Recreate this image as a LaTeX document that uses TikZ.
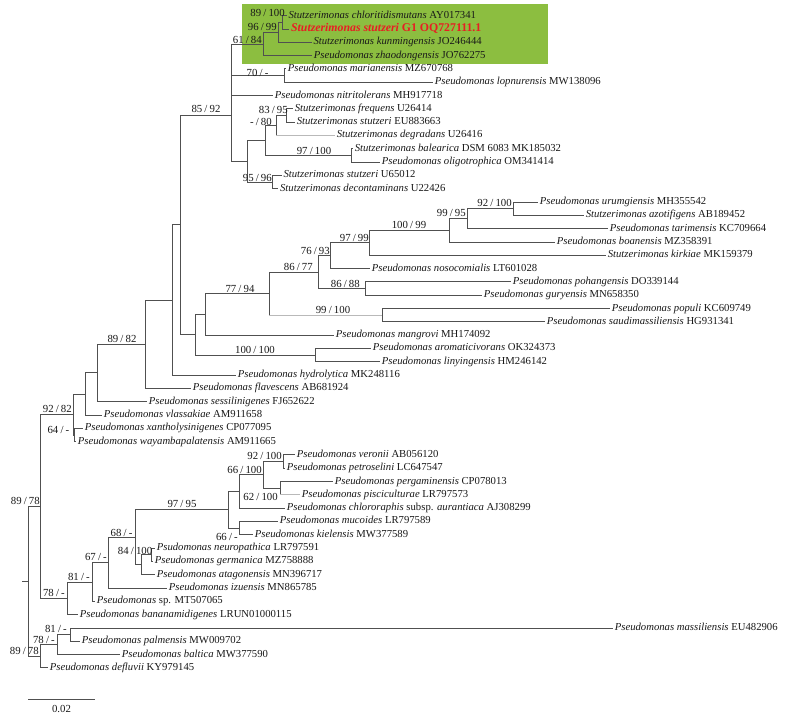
\documentclass[tikz,border=0pt]{standalone}
\usepackage{fontspec}
\setmainfont{Liberation Serif}
\definecolor{grn}{RGB}{140,190,64}
\definecolor{ln}{RGB}{80,80,80}
\definecolor{lnl}{RGB}{185,185,185}
\definecolor{txt}{RGB}{25,25,25}
\definecolor{hl}{RGB}{232,30,35}
\tikzset{
  br/.style={draw=ln, line width=0.9pt},
  brl/.style={draw=lnl, line width=0.9pt},
  tip/.style={anchor=west, inner xsep=1.6pt, inner ysep=0pt, text height=6.5pt, text depth=1.5pt, font=\fontsize{10.7}{12}\selectfont, text=txt},
  bs/.style={inner sep=0pt, font=\fontsize{10.8}{12}\selectfont, text=txt},
  bse/.style={bs, anchor=east},
}
\newcommand{\sn}[2]{\textit{#1} #2}
\newcommand{\bv}[2]{#1\hspace{0.2em}/\hspace{0.2em}#2}
\begin{document}
\begin{tikzpicture}[x=1pt,y=-1pt]
\path[use as bounding box, fill=white] (0,0) rectangle (811,718);
\fill[grn] (242,4) rectangle (548,64);
% ---------- tips ----------
\node[tip] (t1) at (286.7,15.70) {\sn{Stutzerimonas chloritidismutans}{AY017341}};
\node[tip, text=hl, font=\fontsize{11.8}{13}\selectfont\bfseries] (t2) at (289.3,29.01) {\textit{Stutzerimonas stutzeri} G1 OQ727111.1};
\node[tip] (t3) at (311.7,42.32) {\sn{Stutzerimonas kunmingensis}{JO246444}};
\node[tip] (t4) at (312,55.63) {\sn{Pseudomonas zhaodongensis}{JO762275}};
\node[tip] (t5) at (286,68.94) {\sn{Pseudomonas marianensis}{MZ670768}};
\node[tip] (t6) at (433,82.25) {\sn{Pseudomonas lopnurensis}{MW138096}};
\node[tip] (t7) at (273,95.56) {\sn{Pseudomonas nitritolerans}{MH917718}};
\node[tip] (t8) at (293,108.87) {\sn{Stutzerimonas frequens}{U26414}};
\node[tip] (t9) at (295,122.18) {\sn{Stutzerimonas stutzeri}{EU883663}};
\node[tip] (t10) at (335,135.49) {\sn{Stutzerimonas degradans}{U26416}};
\node[tip] (t11) at (353,148.80) {\sn{Stutzerimonas balearica}{DSM 6083 MK185032}};
\node[tip] (t12) at (380,162.11) {\sn{Pseudomonas oligotrophica}{OM341414}};
\node[tip] (t13) at (281.7,175.42) {\sn{Stutzerimonas stutzeri}{U65012}};
\node[tip] (t14) at (278.3,188.73) {\sn{Stutzerimonas decontaminans}{U22426}};
\node[tip] (t15) at (538,202.04) {\sn{Pseudomonas urumgiensis}{MH355542}};
\node[tip] (t16) at (584,215.35) {\sn{Stutzerimonas azotifigens}{AB189452}};
\node[tip] (t17) at (608,228.66) {\sn{Pseudomonas tarimensis}{KC709664}};
\node[tip] (t18) at (555,241.97) {\sn{Pseudomonas boanensis}{MZ358391}};
\node[tip] (t19) at (606,255.28) {\sn{Stutzerimonas kirkiae}{MK159379}};
\node[tip] (t20) at (370,268.59) {\sn{Pseudomonas nosocomialis}{LT601028}};
\node[tip] (t21) at (511,281.90) {\sn{Pseudomonas pohangensis}{DO339144}};
\node[tip] (t22) at (482,295.21) {\sn{Pseudomonas guryensis}{MN658350}};
\node[tip] (t23) at (610,308.52) {\sn{Pseudomonas populi}{KC609749}};
\node[tip] (t24) at (545,321.83) {\sn{Pseudomonas saudimassiliensis}{HG931341}};
\node[tip] (t25) at (334,335.14) {\sn{Pseudomonas mangrovi}{MH174092}};
\node[tip] (t26) at (371,348.45) {\sn{Pseudomonas aromaticivorans}{OK324373}};
\node[tip] (t27) at (380,361.76) {\sn{Pseudomonas linyingensis}{HM246142}};
\node[tip] (t28) at (236,375.07) {\sn{Pseudomonas hydrolytica}{MK248116}};
\node[tip] (t29) at (191,388.38) {\sn{Pseudomonas flavescens}{AB681924}};
\node[tip] (t30) at (147,401.69) {\sn{Pseudomonas sessilinigenes}{FJ652622}};
\node[tip] (t31) at (102,415.00) {\sn{Pseudomonas vlassakiae}{AM911658}};
\node[tip] (t32) at (83,428.31) {\sn{Pseudomonas xantholysinigenes}{CP077095}};
\node[tip] (t33) at (76,441.62) {\sn{Pseudomonas wayambapalatensis}{AM911665}};
\node[tip] (t34) at (295,454.93) {\sn{Pseudomonas veronii}{AB056120}};
\node[tip] (t35) at (285,468.24) {\sn{Pseudomonas petroselini}{LC647547}};
\node[tip] (t36) at (333,481.55) {\sn{Pseudomonas pergaminensis}{CP078013}};
\node[tip] (t37) at (300,494.86) {\sn{Pseudomonas pisciculturae}{LR797573}};
\node[tip] (t38) at (285,508.17) {\textit{Pseudomonas chlororaphis} subsp. \textit{aurantiaca} AJ308299};
\node[tip] (t39) at (278,521.48) {\sn{Pseudomonas mucoides}{LR797589}};
\node[tip] (t40) at (253,534.79) {\sn{Pseudomonas kielensis}{MW377589}};
\node[tip] (t41) at (155,548.10) {\sn{Psudomonas neuropathica}{LR797591}};
\node[tip] (t42) at (153,561.41) {\sn{Pseudomonas germanica}{MZ758888}};
\node[tip] (t43) at (155,574.72) {\sn{Pseudomonas atagonensis}{MN396717}};
\node[tip] (t44) at (167,588.03) {\sn{Pseudomonas izuensis}{MN865785}};
\node[tip] (t45) at (95,601.34) {\textit{Pseudomonas} sp. MT507065};
\node[tip] (t46) at (78,614.65) {\sn{Pseudomonas bananamidigenes}{LRUN01000115}};
\node[tip] (t47) at (613,627.96) {\sn{Pseudomonas massiliensis}{EU482906}};
\node[tip] (t48) at (80,641.27) {\sn{Pseudomonas palmensis}{MW009702}};
\node[tip] (t49) at (120,654.58) {\sn{Pseudomonas baltica}{MW377590}};
\node[tip] (t50) at (48,667.89) {\sn{Pseudomonas defluvii}{KY979145}};
% ---------- internal nodes ----------
\coordinate (n89) at (282.7,22.36);
\coordinate (n96) at (278.3,32.34);
\coordinate (n61) at (263.3,43.98);
\coordinate (n70) at (284,75.60);
\coordinate (n83) at (286.7,115.53);
\coordinate (n80) at (276,125.51);
\coordinate (n97a) at (351.7,155.46);
\coordinate (n265) at (265,140.48);
\coordinate (n95) at (272.7,182.08);
\coordinate (n247) at (247,161.28);
\coordinate (n231) at (231,115);
\coordinate (n513) at (513,208.70);
\coordinate (n467) at (467,218.68);
\coordinate (n449) at (449,230.33);
\coordinate (n369) at (369,242.80);
\coordinate (n330) at (330,255.70);
\coordinate (n365) at (365,288.56);
\coordinate (n318) at (318,272.13);
\coordinate (n382) at (382,315.18);
\coordinate (n269) at (269,293.65);
\coordinate (n205) at (205,314.40);
\coordinate (n315) at (315,355.10);
\coordinate (n195) at (195,334.75);
\coordinate (n180) at (180,224.90);
\coordinate (n172) at (172,300.00);
\coordinate (n145) at (145,344.20);
\coordinate (n97) at (97,372.94);
\coordinate (n85) at (85,393.97);
\coordinate (n64) at (74,434.97);
\coordinate (n73) at (73,414.47);
\coordinate (n283) at (283,461.60);
\coordinate (n280) at (280,488.20);
\coordinate (n263) at (263,474.90);
\coordinate (n239a) at (239,491.50);
\coordinate (n239b) at (239,528.10);
\coordinate (n228) at (228,509.80);
\coordinate (n152) at (151.7,554.76);
\coordinate (n142) at (141.7,564.74);
\coordinate (n135) at (135,537.30);
\coordinate (n108) at (108.7,562.70);
\coordinate (n93) at (92.7,582.00);
\coordinate (n67) at (67,598.30);
\coordinate (n40) at (40,506.40);
\coordinate (n70b) at (70,634.60);
\coordinate (n57) at (57,644.60);
\coordinate (n40b) at (40,656.20);
\coordinate (n28) at (28,581.30);
\coordinate (r0) at (22,581.30);
% ---------- branches ----------
\draw[br] (r0) -- (n28);
\draw[br] (n28) |- (n40);
\draw[br] (n28) |- (n40b);
\draw[br] (n40) |- (n73);
\draw[br] (n40) |- (n67);
\draw[br] (n73) |- (n85);
\draw[br] (n73) |- (n64);
\draw[br] (n64) |- (t32.west);
\draw[br] (n64) |- (t33.west);
\draw[br] (n85) |- (n97);
\draw[br] (n85) |- (t31.west);
\draw[br] (n97) |- (n145);
\draw[br] (n97) |- (t30.west);
\draw[br] (n145) |- (n172);
\draw[br] (n145) |- (t29.west);
\draw[br] (n172) |- (n180);
\draw[br] (n172) |- (t28.west);
\draw[br] (n180) |- (n231);
\draw[br] (n180) |- (n195);
\draw[br] (n231) |- (n61);
\draw[br] (n231) |- (n70);
\draw[br] (n231) |- (t7.west);
\draw[br] (n231) |- (n247);
\draw[br] (n61) |- (n96);
\draw[br] (n61) |- (t4.west);
\draw[br] (n96) |- (n89);
\draw[br] (n96) |- (t3.west);
\draw[br] (n89) |- (t1.west);
\draw[br] (n89) |- (t2.west);
\draw[br] (n70) |- (t5.west);
\draw[br] (n70) |- (t6.west);
\draw[br] (n247) |- (n265);
\draw[br] (n247) |- (n95);
\draw[br] (n265) |- (n80);
\draw[br] (n265) |- (n97a);
\draw[br] (n80) |- (n83);
\draw[br] (n80) -- (n80 |- t10.west);
\draw[brl] (n80 |- t10.west) -- (t10.west);
\draw[br] (n83) |- (t8.west);
\draw[br] (n83) |- (t9.west);
\draw[br] (n97a) |- (t11.west);
\draw[br] (n97a) |- (t12.west);
\draw[br] (n95) |- (t13.west);
\draw[br] (n95) |- (t14.west);
\draw[br] (n195) |- (n205);
\draw[br] (n195) |- (n315);
\draw[br] (n205) |- (n269);
\draw[br] (n205) |- (t25.west);
\draw[br] (n269) |- (n318);
\draw[br] (n269) -- (n269 |- n382);
\draw[brl] (n269 |- n382) -- (n382);
\draw[br] (n318) |- (n330);
\draw[br] (n318) |- (n365);
\draw[br] (n330) |- (n369);
\draw[br] (n330) |- (t20.west);
\draw[br] (n369) |- (n449);
\draw[br] (n369) |- (t19.west);
\draw[br] (n449) |- (n467);
\draw[br] (n449) |- (t18.west);
\draw[br] (n467) |- (n513);
\draw[br] (n467) |- (t17.west);
\draw[br] (n513) |- (t15.west);
\draw[br] (n513) |- (t16.west);
\draw[br] (n365) |- (t21.west);
\draw[br] (n365) |- (t22.west);
\draw[br] (n382) |- (t23.west);
\draw[br] (n382) |- (t24.west);
\draw[br] (n315) |- (t26.west);
\draw[br] (n315) |- (t27.west);
\draw[br] (n67) |- (n93);
\draw[br] (n67) |- (t46.west);
\draw[br] (n93) |- (n108);
\draw[br] (n93) |- (t45.west);
\draw[br] (n108) |- (n135);
\draw[br] (n108) |- (t44.west);
\draw[br] (n135) |- (n228);
\draw[br] (n135) |- (n142);
\draw[br] (n142) |- (n152);
\draw[br] (n142) |- (t43.west);
\draw[br] (n152) |- (t41.west);
\draw[br] (n152) |- (t42.west);
\draw[br] (n228) |- (n239a);
\draw[br] (n228) |- (n239b);
\draw[br] (n239a) |- (n263);
\draw[br] (n239a) |- (t38.west);
\draw[br] (n263) |- (n283);
\draw[br] (n263) |- (n280);
\draw[br] (n283) |- (t34.west);
\draw[br] (n283) |- (t35.west);
\draw[br] (n280) |- (t36.west);
\draw[br] (n280) -- (n280 |- t37.west);
\draw[brl] (n280 |- t37.west) -- (t37.west);
\draw[br] (n239b) |- (t39.west);
\draw[br] (n239b) |- (t40.west);
\draw[br] (n40b) |- (n57);
\draw[br] (n40b) |- (t50.west);
\draw[br] (n57) |- (n70b);
\draw[br] (n57) |- (t49.west);
\draw[br] (n70b) |- (t47.west);
\draw[br] (n70b) |- (t48.west);
% ---------- support values ----------
\node[bse] (b1) at (285,13) {\bv{89}{100}};
\node[bse] (b2) at (277,27) {\bv{96}{99}};
\node[bse] (b3) at (262,40) {\bv{61}{84}};
\node[bs] (b4) at (257.5,72.5) {\bv{70}{-}};
\node[bs] (b5) at (206,109) {\bv{85}{92}};
\node[bse] (b6) at (288,110) {\bv{83}{95}};
\node[bse] (b7) at (272,122) {\bv{-}{80}};
\node[bs] (b8) at (314,151) {\bv{97}{100}};
\node[bse] (b9) at (272,178) {\bv{95}{96}};
\node[bse] (b10) at (512,203) {\bv{92}{100}};
\node[bse] (b11) at (466,213) {\bv{99}{95}};
\node[bs] (b12) at (409,225) {\bv{100}{99}};
\node[bse] (b13) at (369,237.5) {\bv{97}{99}};
\node[bse] (b14) at (330,251) {\bv{76}{93}};
\node[bse] (b15) at (313,267) {\bv{86}{77}};
\node[bse] (b16) at (360,283.5) {\bv{86}{88}};
\node[bs] (b17) at (240,288.5) {\bv{77}{94}};
\node[bs] (b18) at (333,310) {\bv{99}{100}};
\node[bs] (b19) at (255,349.5) {\bv{100}{100}};
\node[bs] (b20) at (122,339) {\bv{89}{82}};
\node[bse] (b21) at (72,409) {\bv{92}{82}};
\node[bse] (b22) at (69.5,429.5) {\bv{64}{-}};
\node[bse] (b23) at (40,501) {\bv{89}{78}};
\node[bse] (b24) at (282,455.5) {\bv{92}{100}};
\node[bse] (b25) at (262,470) {\bv{66}{100}};
\node[bse] (b26) at (278,497) {\bv{62}{100}};
\node[bs] (b27) at (182,504) {\bv{97}{95}};
\node[bse] (b28) at (238,537) {\bv{66}{-}};
\node[bs] (b29) at (121.5,533) {\bv{68}{-}};
\node[bse] (b30) at (152.5,551) {\bv{84}{100}};
\node[bse] (b31) at (107,557) {\bv{67}{-}};
\node[bse] (b32) at (90,577) {\bv{81}{-}};
\node[bse] (b33) at (65,593) {\bv{78}{-}};
\node[bse] (b34) at (67,629) {\bv{81}{-}};
\node[bse] (b35) at (55,640) {\bv{78}{-}};
\node[bse] (b36) at (39,651) {\bv{89}{78}};
% ---------- scale bar ----------
\coordinate (sb1) at (28,699);
\coordinate (sb2) at (95,699);
\draw[br] (sb1) -- (sb2);
\node[bs] (sbl) at (61.5,709) {0.02};
\end{tikzpicture}
\end{document}
